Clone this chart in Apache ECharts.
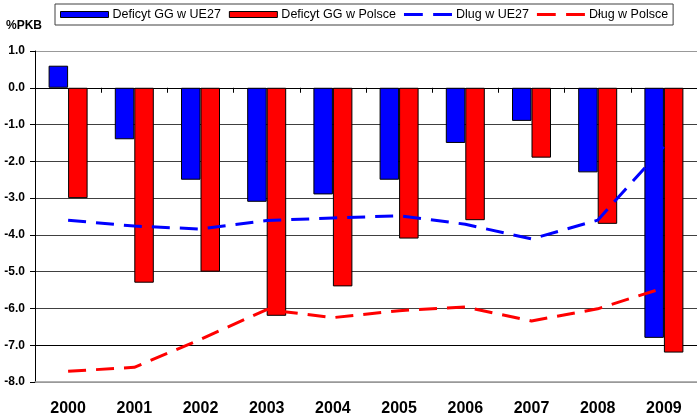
<!DOCTYPE html>
<html>
<head>
<meta charset="utf-8">
<script src="https://cdn.jsdelivr.net/npm/echarts@6/dist/echarts.min.js"></script>
<style>
html,body{margin:0;padding:0;background:#fff;}
#chart{width:697px;height:417px;}
</style>
</head>
<body>
<div id="chart"></div>
<script>
const years = ['2000','2001','2002','2003','2004','2005','2006','2007','2008','2009'];
const deficitEU27 = [0.6, -1.4, -2.5, -3.1, -2.9, -2.5, -1.5, -0.9, -2.3, -6.8];
const deficitPL = [-3.0, -5.3, -5.0, -6.2, -5.4, -4.1, -3.6, -1.9, -3.7, -7.2];
// debt lines, as plotted on the %PKB scale
const debtEU27 = [-3.6, -3.76, -3.84, -3.61, -3.54, -3.48, -3.71, -4.11, -3.6, -1.6];
const debtPL = [-7.71, -7.6, -6.84, -6.03, -6.25, -6.06, -5.96, -6.34, -6.01, -5.44];
const seriesNames = ['Deficyt GG w UE27', 'Deficyt GG w Polsce', 'Dlug w UE27', 'Dług w Polsce'];
const yTicks = { min: -8, max: 1, step: 1 };

const chart = echarts.init(document.getElementById('chart'));
const font = 'Arial, "Liberation Sans", sans-serif';
const gridColors = ['#999999', '#000000', '#404040', '#404040', '#404040', '#404040', '#404040', '#404040', '#000000', '#999999'];
const dashIcon = 'path://M0,0L0.01,0L0.01,0.01Z M0,6L0.01,6L0.01,5.99Z M0,1.5H20V4.5H0Z M31,1.5H51V4.5H31Z';

chart.setOption({
  animation: false,
  backgroundColor: '#ffffff',
  title: {
    text: '%PKB', left: 6, top: 20, padding: 0,
    textStyle: { fontFamily: font, fontSize: 12, fontWeight: 'bold', color: '#000' }
  },
  legend: {
    left: 55, top: 4, padding: [4, 5, 4, 5],
    borderColor: '#404040', borderWidth: 1, backgroundColor: '#fff',
    itemGap: 8, itemHeight: 6, itemWidth: 48,
    data: [
      { name: seriesNames[0], icon: 'rect', itemStyle: { color: '#0000FF', borderColor: '#000', borderWidth: 1 } },
      { name: seriesNames[1], icon: 'rect', itemStyle: { color: '#FF0000', borderColor: '#000', borderWidth: 1 } },
      { name: seriesNames[2], icon: dashIcon, itemStyle: { color: '#0000FF', borderWidth: 0 } },
      { name: seriesNames[3], icon: dashIcon, itemStyle: { color: '#FF0000', borderWidth: 0 } }
    ],
    textStyle: { fontFamily: font, fontSize: 12.5, color: '#000', padding: [0, 0, 0, -1] }
  },
  grid: { left: 35, top: 51, width: 664, height: 333, containLabel: false },
  xAxis: [
    {
      type: 'category', data: years, position: 'bottom',
      axisLine: { onZero: false, lineStyle: { color: '#999999', width: 1.5 } },
      axisTick: { show: false },
      axisLabel: { fontFamily: font, fontSize: 16, fontWeight: 'bold', color: '#000', margin: 19 }
    },
    {
      type: 'category', data: years, position: 'top',
      axisLine: { onZero: true, lineStyle: { color: '#000', width: 1 } },
      axisTick: { show: true, inside: true, length: 5, lineStyle: { color: '#000' } },
      axisLabel: { show: false }
    }
  ],
  yAxis: {
    type: 'value', min: yTicks.min, max: yTicks.max, interval: yTicks.step,
    axisLine: { show: true, lineStyle: { color: '#000', width: 1 } },
    axisTick: { show: true, length: 5, lineStyle: { color: '#000' } },
    axisLabel: {
      fontFamily: font, fontSize: 12, fontWeight: 'bold', color: '#000', margin: 10,
      formatter: v => v.toFixed(1)
    },
    splitLine: { show: true, lineStyle: { color: gridColors, width: 1 } }
  },
  series: [
    {
      name: seriesNames[0], type: 'bar', data: deficitEU27, barWidth: 19.5, barGap: '0%',
      itemStyle: { color: '#0000FF', borderColor: '#000', borderWidth: 1 }
    },
    {
      name: seriesNames[1], type: 'bar', data: deficitPL, barWidth: 19.5, barGap: '0%',
      itemStyle: { color: '#FF0000', borderColor: '#000', borderWidth: 1 }
    },
    {
      name: seriesNames[2], type: 'line', data: debtEU27, symbol: 'none', z: 5,
      itemStyle: { color: '#0000FF' },
      lineStyle: { color: '#0000FF', width: 3, type: [18, 10] }
    },
    {
      name: seriesNames[3], type: 'line', data: debtPL, symbol: 'none', z: 5,
      itemStyle: { color: '#FF0000' },
      lineStyle: { color: '#FF0000', width: 3, type: [18, 10] }
    }
  ]
});
</script>
</body>
</html>
